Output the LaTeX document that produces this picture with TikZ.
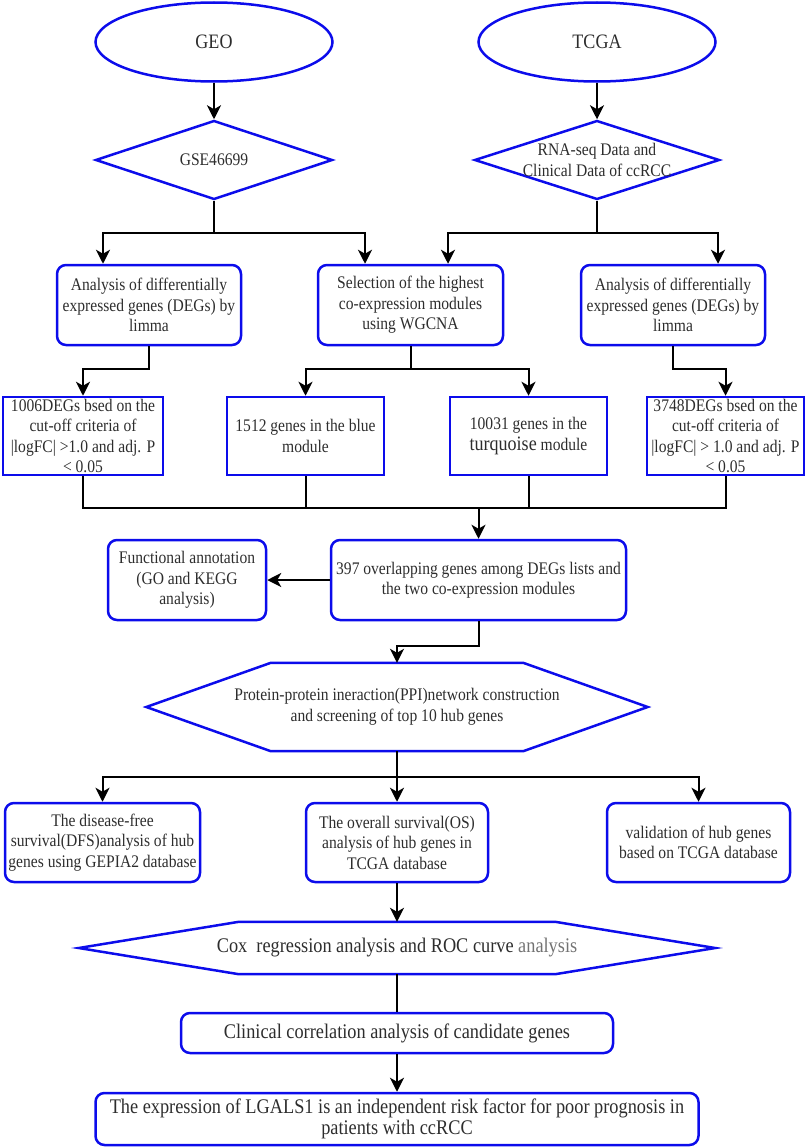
\documentclass[tikz,border=0pt]{standalone}
\usepackage{fontspec}
\setmainfont{Liberation Serif}[FakeStretch=0.88]
\usetikzlibrary{shapes.geometric, arrows.meta, calc}

\definecolor{flowblue}{RGB}{12,12,235}
\definecolor{flowtext}{RGB}{45,45,45}

\tikzset{
  txt/.style={text=flowtext, align=center, inner sep=0pt, font=\fontsize{17.7}{20.5}\selectfont},
  bigtxt/.style={txt, font=\fontsize{20.8}{21}\selectfont},
  frame/.style={draw=flowblue, line width=2.5pt},
  startnode/.style={txt, frame, ellipse, minimum width=237pt, minimum height=79pt, font=\fontsize{20.5}{21}\selectfont},
  datanode/.style={frame, diamond, inner sep=0pt, minimum height=79pt},
  roundbox/.style={txt, frame, rounded corners=9pt},
  sharpbox/.style={txt, frame},
  hexcore/.style={inner sep=0pt},
  line/.style={line width=2pt, black},
  arrow/.style={line, -{Stealth[length=14pt, width=14pt, inset=4pt]}},
}

\begin{document}
\begin{tikzpicture}[x=1pt, y=-1pt]
    \useasboundingbox (0,0) rectangle (809,1148);

    % sources
    \node[startnode] (geo) at (214,42) {GEO};
    \node[startnode] (tcga) at (597,42) {TCGA};

    % data sets
    \node[datanode, minimum width=237pt] (gse) at (214,160) {};
    \node[txt] (gsetext) at (gse) {GSE46699};
    \node[datanode, minimum width=245pt] (rna) at (597,160) {};
    \node[txt] (rnatext) at (rna) {RNA-seq Data and\\Clinical Data of ccRCC};

    \draw[arrow] (geo) -- (gse);
    \draw[arrow] (tcga) -- (rna);

    % first analyses
    \node[roundbox, minimum width=184pt, minimum height=80pt] (degA) at (149,305)
        {Analysis of differentially\\expressed genes (DEGs) by\\limma};
    \node[roundbox, minimum width=185pt, minimum height=80pt] (wgcna) at (410.5,305)
        {Selection of the highest\\co-expression modules\\using WGCNA};
    \node[roundbox, minimum width=184pt, minimum height=80pt] (degB) at (673,305)
        {Analysis of differentially\\expressed genes (DEGs) by\\limma};

    \draw[line] (gse.south) -- ++(0,32) coordinate (gsplit);
    \draw[arrow] (gsplit) -| ([xshift=-46pt]degA.north);
    \draw[arrow] (gsplit) -| ([xshift=-45.5pt]wgcna.north);
    \draw[line] (rna.south) -- ++(0,32) coordinate (rsplit);
    \draw[arrow] (rsplit) -| ([xshift=37.5pt]wgcna.north);
    \draw[arrow] (rsplit) -| ([xshift=45pt]degB.north);

    % gene lists
    \node[sharpbox, minimum width=160pt, minimum height=78pt] (listA) at (83,436)
        {1006DEGs bsed on the\\cut-off criteria of\\|logFC| >1.0 and adj. P\\< 0.05};
    \node[sharpbox, minimum width=157pt, minimum height=78pt] (blue) at (305.5,436)
        {1512 genes in the blue\\module};
    \node[sharpbox, minimum width=157pt, minimum height=78pt] (turq) at (528.5,436)
        {10031 genes in the\\{\fontsize{20.5}{20.5}\selectfont turquoise} module};
    \node[sharpbox, minimum width=157pt, minimum height=78pt] (listB) at (725.5,436)
        {3748DEGs bsed on the\\cut-off criteria of\\|logFC| > 1.0 and adj. P\\< 0.05};

    \draw[arrow] (degA.south) -- ++(0,23) -| (listA.north);
    \draw[line] (wgcna.south) -- ++(0,23) coordinate (wsplit);
    \draw[arrow] (wsplit) -| (blue.north);
    \draw[arrow] (wsplit) -| (turq.north);
    \draw[arrow] (degB.south) -- ++(0,23) -| (listB.north);

    % overlap
    \node[roundbox, minimum width=295pt, minimum height=80pt] (overlap) at (478.5,580)
        {397 overlapping genes among DEGs lists and\\the two co-expression modules};
    \node[roundbox, minimum width=158pt, minimum height=80pt] (func) at (187,580)
        {Functional annotation\\(GO and KEGG\\analysis)};

    \coordinate (merge) at (0,508);
    \draw[line] (listA.south) -- (listA.south |- merge) -- (listB.south |- merge) -- (listB.south);
    \draw[line] (blue.south) -- (blue.south |- merge);
    \draw[line] (turq.south) -- (turq.south |- merge);
    \draw[arrow] (overlap.north |- merge) -- (overlap.north);
    \draw[arrow] (overlap.west) -- (func.east);

    % PPI network
    \node[hexcore, minimum width=252pt, minimum height=88pt] (ppi) at (397,707) {};
    \draw[frame] (ppi.north west) -- (ppi.north east) -- ($(ppi.east)+(124.5,0)$)
        -- (ppi.south east) -- (ppi.south west) -- ($(ppi.west)+(-124.5,0)$) -- cycle;
    \node[txt] (ppitext) at (ppi)
        {Protein-protein ineraction(PPI)network construction\\and screening of top 10 hub genes};

    \draw[arrow] (overlap.south) -- ++(0,25) -| (ppi.north);

    % survival and validation
    \node[roundbox, minimum width=195pt, minimum height=79pt] (dfs) at (102.5,842.5)
        {The disease-free\\survival(DFS)analysis of hub\\genes using GEPIA2 database};
    \node[roundbox, minimum width=182pt, minimum height=79pt] (os) at (397,842.5)
        {The overall survival(OS)\\analysis of hub genes in\\TCGA database};
    \node[roundbox, minimum width=183pt, minimum height=79pt] (valid) at (698.5,842.5)
        {validation of hub genes\\based on TCGA database};

    \draw[line] (ppi.south) -- ++(0,26) coordinate (psplit);
    \draw[arrow] (psplit) -| (dfs.north);
    \draw[arrow] (psplit) -- (os.north);
    \draw[arrow] (psplit) -| (valid.north);

    % cox and roc
    \node[hexcore, minimum width=316pt, minimum height=52pt] (cox) at (397,948) {};
    \draw[frame] (cox.north west) -- (cox.north east) -- ($(cox.east)+(160,0)$)
        -- (cox.south east) -- (cox.south west) -- ($(cox.west)+(-160,0)$) -- cycle;
    \node[bigtxt] (coxtext) at (cox)
        {Cox\ \ regression analysis and ROC curve \textcolor{black!55}{analysis}};

    \draw[arrow] (os.south) -- (cox.north);

    % final steps
    \node[roundbox, font=\fontsize{20.8}{21}\selectfont, minimum width=432pt, minimum height=40pt] (clin) at (397,1033)
        {Clinical correlation analysis of candidate genes};
    \node[roundbox, font=\fontsize{20.8}{21}\selectfont, minimum width=603pt, minimum height=52pt] (final) at (397,1119)
        {The expression of LGALS1 is an independent risk factor for poor prognosis in\\patients with ccRCC};

    \draw[line] (cox.south) -- (clin.north);
    \draw[arrow] (clin.south) -- (final.north);
\end{tikzpicture}
\end{document}
